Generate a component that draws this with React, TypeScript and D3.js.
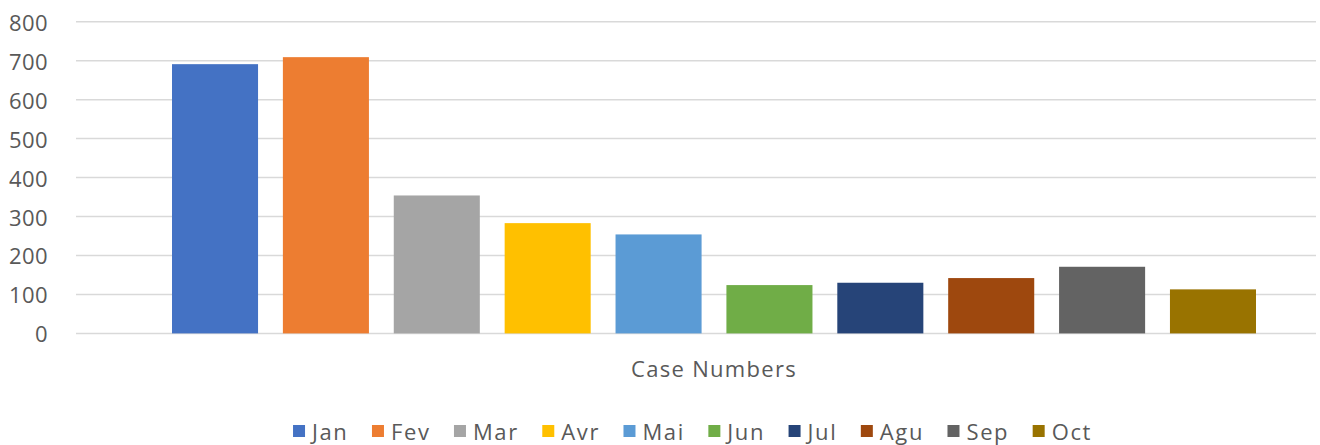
import React, { useEffect, useRef } from "react";
import * as d3 from "d3";

const months = ["Jan", "Fev", "Mar", "Avr", "Mai", "Jun", "Jul", "Agu", "Sep", "Oct"];
const values = [691, 709, 354, 283, 254, 124, 130, 142, 171, 113];
const colors = ["#4472C4", "#ED7D31", "#A5A5A5", "#FFC000", "#5B9BD5", "#70AD47", "#264478", "#9E480E", "#636363", "#997300"];
const yTicks = [0, 100, 200, 300, 400, 500, 600, 700, 800];
const categoryLabel = "Case Numbers";

const W = 1320;
const H = 445;
const FONT = "'Open Sans', 'Noto Sans', sans-serif";
const TEXT = "#595959";

export default function App() {
  const ref = useRef<SVGSVGElement>(null);

  useEffect(() => {
    const svg = d3.select(ref.current);
    svg.selectAll("*").remove();

    const plotLeft = 76;
    const plotRight = 1316;
    const y = d3.scaleLinear().domain([0, 800]).range([333.4, 21.7]);
    const x = d3
      .scaleBand<string>()
      .domain(months)
      .range([172, 1256])
      .paddingInner(0.224)
      .paddingOuter(0);

    // gridlines
    svg
      .append("g")
      .selectAll("line")
      .data(yTicks)
      .join("line")
      .attr("x1", plotLeft)
      .attr("x2", plotRight)
      .attr("y1", (d) => y(d))
      .attr("y2", (d) => y(d))
      .attr("stroke", "#D9D9D9")
      .attr("stroke-width", 1.5);

    // y tick labels
    svg
      .append("g")
      .selectAll("text")
      .data(yTicks)
      .join("text")
      .attr("x", 48)
      .attr("y", (d) => y(d))
      .attr("text-anchor", "end")
      .attr("dominant-baseline", "central")
      .attr("font-family", FONT)
      .attr("font-size", 22)
      .attr("letter-spacing", 0.4)
      .attr("fill", TEXT)
      .text((d) => String(d));

    // bars
    svg
      .append("g")
      .selectAll("rect")
      .data(months)
      .join("rect")
      .attr("x", (d) => x(d)!)
      .attr("width", x.bandwidth())
      .attr("y", (d, i) => y(values[i]))
      .attr("height", (d, i) => y(0) - y(values[i]))
      .attr("fill", (d, i) => colors[i]);

    // category label
    svg
      .append("text")
      .attr("x", 714)
      .attr("y", 368)
      .attr("text-anchor", "middle")
      .attr("dominant-baseline", "central")
      .attr("font-family", FONT)
      .attr("font-size", 22)
      .attr("letter-spacing", 1.3)
      .attr("fill", TEXT)
      .text(categoryLabel);

    // legend
    const lg = svg.append("g");
    const sq = 12;
    const gap = 7;
    const spacing = 23.5;
    const items = months.map((m, i) => {
      const g = lg.append("g");
      g.append("rect").attr("width", sq).attr("height", sq).attr("y", -sq / 2).attr("fill", colors[i]);
      const t = g
        .append("text")
        .attr("x", sq + gap)
        .attr("y", 0)
        .attr("dominant-baseline", "central")
        .attr("font-family", FONT)
        .attr("font-size", 22)
        .attr("letter-spacing", 1.6)
        .attr("fill", TEXT)
        .text(m);
      const w = (t.node() as SVGTextElement).getComputedTextLength();
      return { g, w: sq + gap + w };
    });
    const total = d3.sum(items, (d) => d.w) + spacing * (items.length - 1);
    let cx = 692.5 - total / 2;
    items.forEach((it) => {
      it.g.attr("transform", `translate(${cx},431)`);
      cx += it.w + spacing;
    });
  }, []);

  return (
    <svg
      ref={ref}
      width={W}
      height={H}
      style={{ position: "absolute", left: 0, top: 0, background: "#fff" }}
    />
  );
}
